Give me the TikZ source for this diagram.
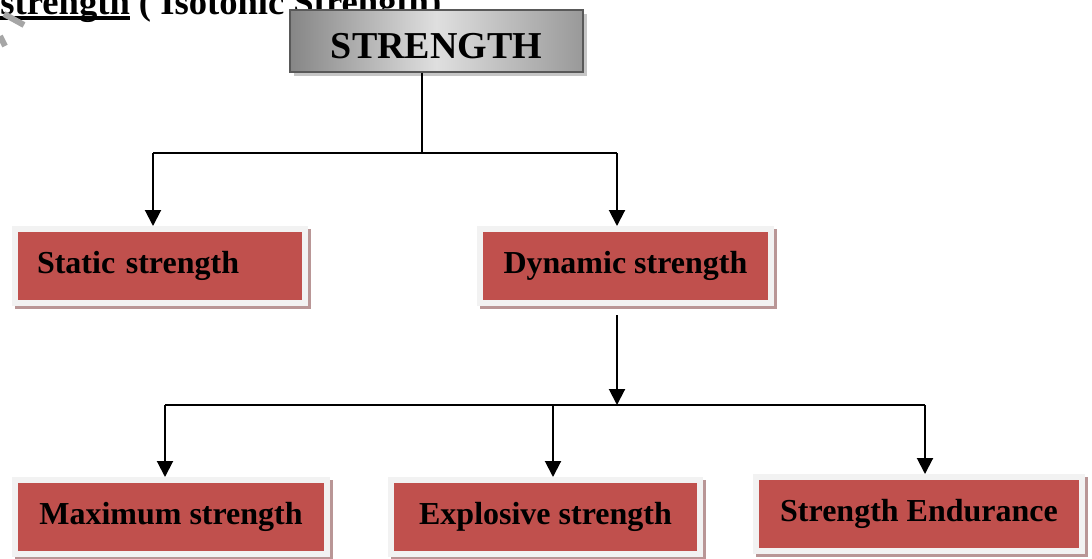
\documentclass[tikz,border=0pt]{standalone}
\usepackage{fontspec}
\setmainfont{Liberation Serif}
\usetikzlibrary{arrows.meta}

\definecolor{boxred}{HTML}{C0504D}
\definecolor{framegray}{HTML}{F2F2F2}
\definecolor{shadowpink}{RGB}{185,150,150}

\tikzset{
  redbox/.style={draw=framegray, line width=3pt, fill=boxred, minimum height=37pt,
    font=\bfseries\fontsize{16}{18}\selectfont,
    preaction={draw=shadowpink, fill=shadowpink, line width=3pt,
      transform canvas={shift={(1.5pt,-1.5pt)}}}},
  topbox/.style={draw=gray!70!black, line width=0.6pt, minimum width=146.5pt, minimum height=31pt,
    left color=gray!95, right color=gray!80, middle color=gray!25,
    text height=17pt, text depth=0pt,
    font=\bfseries\fontsize{19}{20}\selectfont,
    preaction={fill=gray!45, transform canvas={shift={(2pt,-2pt)}}}},
  link/.style={line width=1pt},
  arr/.style={link, -{Triangle[length=8pt, width=8pt]}},
}

\begin{document}
\begin{tikzpicture}[x=0.5pt, y=-0.5pt]
    \useasboundingbox (0,0) rectangle (1092,558);
    \clip (0,0) rectangle (1092,558);

    % heading of the page, cut off at the top
    \node (heading) [anchor=base west, inner sep=0pt, font=\bfseries\fontsize{18.3}{20}\selectfont]
      at (0,14) {\setbox0\hbox{strength}\rlap{\rule[-3pt]{\wd0}{2pt}}strength ( Isotonic Strength)};
    \draw[gray!70, line width=3pt] (4,14) -- (24,25);
    \draw[gray!70, line width=3pt] (0,36) -- (5,46);

    % boxes
    \node (strength) [topbox] at (436.5,41) {STRENGTH};
    \node (static) [redbox, minimum width=145pt, text width=123pt, inner xsep=11pt, align=left]
      at (160,266) {Static strength};
    \node (dynamic) [redbox, minimum width=145.5pt] at (625.5,266) {Dynamic strength};
    \node (maximum) [redbox, minimum width=156pt] at (171,517) {Maximum strength};
    \node (explosive) [redbox, minimum width=154.5pt] at (545.5,517) {Explosive strength};
    \node (endurance) [redbox, minimum width=163pt] at (919,514) {Strength Endurance};

    % first level
    \coordinate (top) at (422,153);
    \coordinate (lefttop) at (153,153);
    \coordinate (righttop) at (617,153);
    \draw[link] (strength.south -| top) -- (top);
    \draw[link] (lefttop) -- (righttop);
    \draw[arr] (lefttop) -- (static.north -| lefttop);
    \draw[arr] (righttop) -- (dynamic.north -| righttop);

    % second level
    \coordinate (mid) at (617,405);
    \coordinate (barleft) at (165,405);
    \coordinate (barmid) at (553,405);
    \coordinate (barright) at (925,405);
    \draw[arr] ([yshift=-4.5pt]dynamic.south -| mid) -- (mid);
    \draw[link] (barleft) -- (barright);
    \draw[arr] (barleft) -- (maximum.north -| barleft);
    \draw[arr] (barmid) -- (explosive.north -| barmid);
    \draw[arr] (barright) -- (endurance.north -| barright);
\end{tikzpicture}
\end{document}
